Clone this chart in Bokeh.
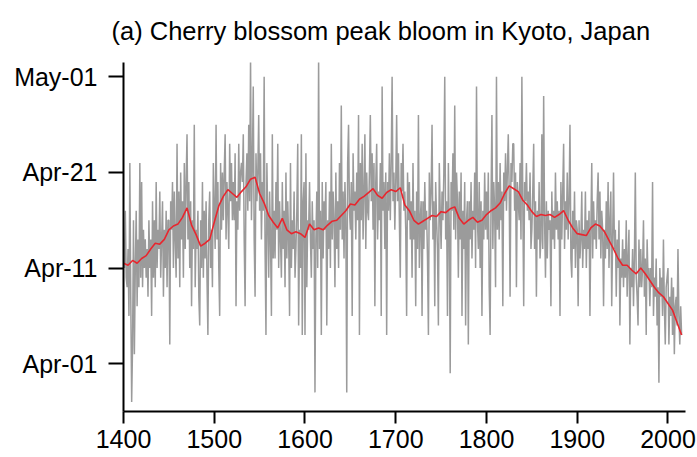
from bokeh.plotting import figure
from bokeh.models import Range1d, FixedTicker, ColumnDataSource
from bokeh.embed import file_html
from bokeh.resources import INLINE

FONT = "Liberation Sans"

title_text = "(a) Cherry blossom peak bloom in Kyoto, Japan"

# Peak bloom day of year, one value per year, starting 1400
bloom_1400s = [
    104, 101, 107, 100, 99, 103, 96, 112, 98, 87,
    93, 106, 92, 101, 107, 97, 104, 99, 112, 100,
    110, 99, 105, 101, 104, 100, 103, 98, 106, 101,
    104, 96, 108, 100, 106, 99, 110, 101, 105, 103,
    109, 100, 104, 108, 98, 105, 101, 107, 99, 106,
    106, 93, 108, 105, 110, 101, 109, 104, 100, 114,
    102, 109, 99, 111, 104, 108, 100, 112, 103, 110,
    115, 104, 110, 101, 108, 97, 106, 103, 116, 99,
    105, 103, 107, 98, 95, 106, 101, 110, 100, 107,
    102, 108, 100, 94, 106, 109, 101, 105, 99, 112,
]
bloom_1500s = [
    107, 103, 116, 104, 110, 101, 96, 112, 105, 111,
    106, 111, 115, 104, 110, 107, 103, 114, 108, 112,
    106, 110, 106, 113, 97, 108, 105, 114, 107, 111,
    112, 110, 115, 104, 97, 110, 113, 107, 116, 108,
    123, 106, 112, 120, 104, 98, 113, 108, 111, 117,
    107, 113, 104, 110, 107, 121, 103, 94, 112, 106,
    100, 109, 104, 96, 115, 102, 107, 102, 110, 105,
    114, 101, 108, 104, 100, 110, 103, 107, 99, 111,
    102, 108, 104, 96, 112, 101, 106, 103, 109, 100,
    103, 107, 114, 95, 105, 101, 115, 94, 108, 110,
]
bloom_1600s = [
    94, 113, 99, 106, 105, 110, 104, 100, 108, 103,
    106, 88, 104, 109, 101, 123, 103, 107, 94, 110,
    102, 108, 105, 110, 95, 106, 103, 109, 101, 114,
    104, 109, 106, 99, 111, 103, 108, 101, 112, 105,
    118, 104, 109, 102, 110, 106, 88, 112, 116, 107,
    105, 110, 96, 113, 107, 109, 104, 111, 106, 117,
    94, 112, 106, 114, 104, 109, 115, 103, 111, 107,
    106, 111, 117, 108, 113, 105, 112, 97, 110, 114,
    104, 109, 106, 112, 96, 120, 107, 110, 103, 111,
    94, 110, 107, 113, 106, 112, 121, 108, 111, 105,
]
bloom_1700s = [
    110, 117, 108, 113, 106, 100, 112, 109, 114, 107,
    109, 105, 96, 111, 106, 110, 104, 108, 100, 112,
    104, 107, 97, 109, 103, 117, 101, 106, 108, 96,
    108, 103, 110, 105, 107, 102, 94, 111, 106, 109,
    116, 104, 108, 97, 110, 106, 103, 95, 112, 107,
    103, 109, 106, 111, 121, 104, 108, 96, 112, 105,
    90, 110, 107, 113, 105, 118, 104, 111, 108, 100,
    109, 104, 111, 96, 107, 103, 110, 95, 106, 108,
    93, 108, 104, 110, 102, 107, 105, 111, 101, 120,
    106, 103, 110, 101, 108, 96, 107, 104, 111, 105,
]
bloom_1800s = [
    109, 104, 111, 99, 94, 108, 117, 103, 110, 107,
    99, 121, 105, 110, 104, 112, 106, 109, 97, 111,
    108, 113, 107, 111, 115, 109, 98, 112, 110, 114,
    114, 107, 111, 99, 110, 108, 106, 112, 104, 121,
    108, 97, 110, 108, 112, 107, 109, 106, 111, 103,
    105, 109, 114, 103, 108, 98, 107, 104, 110, 102,
    104, 115, 103, 119, 106, 100, 108, 102, 107, 105,
    106, 97, 109, 104, 107, 103, 111, 105, 108, 104,
    107, 96, 110, 104, 109, 114, 103, 108, 105, 111,
    104, 108, 116, 102, 100, 107, 103, 109, 101, 106,
]
bloom_1900s = [
    105, 97, 106, 102, 104, 109, 101, 105, 103, 109,
    101, 106, 103, 107, 96, 105, 112, 102, 108, 104,
    106, 103, 108, 111, 104, 109, 102, 107, 105, 97,
    105, 102, 108, 103, 110, 101, 106, 109, 97, 104,
    111, 103, 105, 98, 104, 101, 106, 95, 102, 100,
    104, 99, 103, 100, 106, 98, 102, 105, 93, 101,
    99, 103, 97, 102, 111, 100, 98, 95, 104, 99,
    103, 99, 101, 106, 98, 102, 94, 104, 100, 101,
    97, 101, 99, 110, 96, 100, 98, 102, 95, 99,
    89, 101, 98, 100, 96, 104, 97, 93, 99, 100,
]
bloom_2000s = [
    101, 93, 98, 96, 100, 94, 99, 92, 97, 98,
    95, 103, 96, 93, 97, 94,
]

bloom_doy = bloom_1400s + bloom_1500s + bloom_1600s + bloom_1700s + bloom_1800s + bloom_1900s + bloom_2000s
bloom_years = list(range(1400, 1400 + len(bloom_doy)))

# Smoothed curve, every 5 years from 1400
smooth_doy = [
    101.5, 101.3, 101.8, 101.5, 102.0, 102.3, 103.0, 103.6, 103.5, 104.0,
    105.0, 105.4, 105.6, 106.3, 107.3, 105.5, 104.5, 103.3, 103.6, 104.0,
    105.8, 107.5, 108.5, 109.2, 108.8, 108.4, 109.0, 109.5, 110.3, 110.5,
    108.8, 107.8, 106.5, 105.8, 105.2, 106.2, 105.0, 104.6, 104.8, 104.6,
    104.2, 105.6, 105.0, 105.2, 105.0, 105.5, 105.9, 106.0, 106.5, 107.0,
    107.7, 107.6, 108.2, 108.5, 108.9, 109.3, 108.6, 108.3, 108.9, 109.2,
    109.0, 109.4, 107.6, 107.0, 106.0, 105.6, 105.9, 106.2, 106.5, 106.4,
    106.9, 106.8, 107.2, 107.4, 106.2, 105.6, 106.0, 106.3, 105.8, 106.0,
    106.6, 107.0, 107.3, 107.8, 108.8, 109.6, 109.3, 109.0, 108.1, 107.6,
    106.9, 106.4, 106.6, 106.5, 106.6, 106.3, 106.6, 107.0, 106.0, 105.2,
    104.6, 104.5, 104.4, 105.2, 105.6, 105.4, 104.8, 103.9, 103.0, 102.0,
    101.3, 101.3, 100.8, 100.4, 101.0, 100.4, 99.7, 99.0, 98.4, 98.0,
    97.3, 96.6, 95.3, 94.0,
]
smooth_years = list(range(1400, 1400 + 5 * len(smooth_doy), 5))

x_ticks = [1400, 1500, 1600, 1700, 1800, 1900, 2000]
y_ticks = [91, 101, 111, 121]
y_tick_labels = ["Apr-01", "Apr-11", "Apr-21", "May-01"]

p = figure(width=697, height=457, output_backend="svg", toolbar_location=None,
           x_range=Range1d(1400, 2019.3), y_range=Range1d(86, 122.5),
           min_border_left=123, min_border_right=12, min_border_top=62,
           min_border_bottom=46)

p.title.text = title_text
p.title.text_font = FONT
p.title.text_font_size = "25.5px"
p.title.text_font_style = "normal"
p.title.text_color = "black"
p.title.align = "left"
p.title.vertical_align = "top"
p.title.offset = -12
p.title.standoff = 32

p.grid.visible = False
p.outline_line_color = None
p.background_fill_color = "white"
p.border_fill_color = "white"

for ax in (p.xaxis[0], p.yaxis[0]):
    ax.axis_line_width = 2
    ax.axis_line_color = "black"
    ax.major_tick_line_width = 2
    ax.major_tick_line_color = "black"
    ax.major_tick_in = 0
    ax.minor_tick_line_color = None
    ax.major_label_text_font = FONT
    ax.major_label_text_font_size = "25px"
    ax.major_label_text_color = "black"

p.xaxis.ticker = FixedTicker(ticks=x_ticks)
p.xaxis.major_tick_out = 12
p.xaxis.major_label_standoff = 6

p.yaxis.ticker = FixedTicker(ticks=y_ticks)
p.yaxis.major_label_overrides = {t: l for t, l in zip(y_ticks, y_tick_labels)}
p.yaxis.major_tick_out = 15
p.yaxis.major_label_standoff = 11

raw = ColumnDataSource(dict(x=bloom_years, y=bloom_doy))
smooth = ColumnDataSource(dict(x=smooth_years, y=smooth_doy))
p.line("x", "y", source=raw, line_color="#9b9b9b", line_width=1.5)
p.line("x", "y", source=smooth, line_color="#e8262e", line_width=1.6)

open("out.html", "w").write(file_html(p, INLINE))
